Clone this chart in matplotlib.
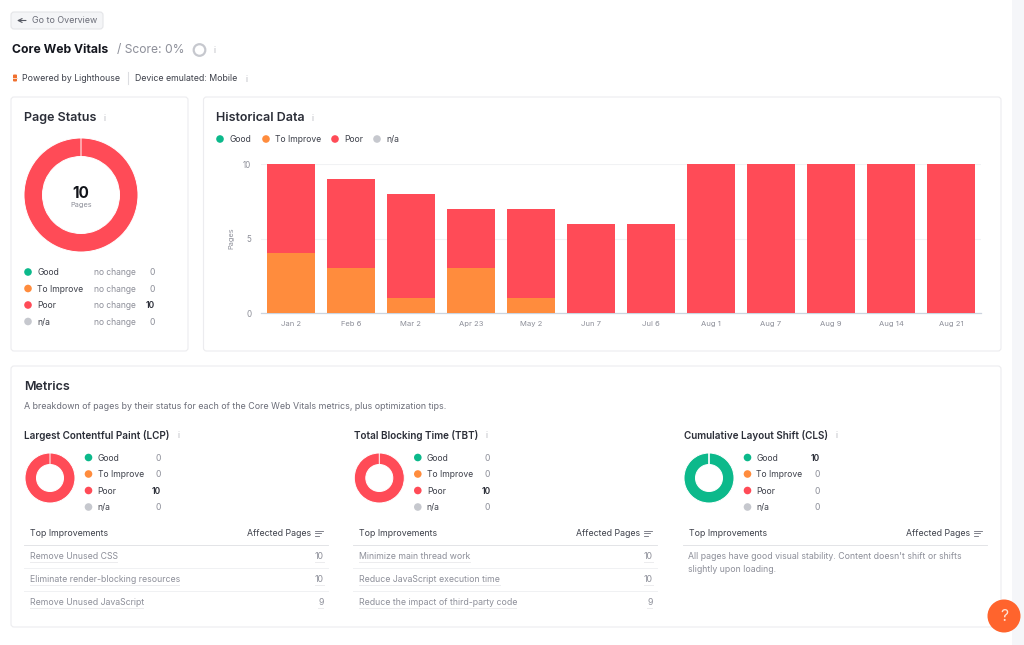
import numpy as np
import matplotlib
matplotlib.use("Agg")
import matplotlib.pyplot as plt
from matplotlib.patches import Circle, FancyBboxPatch, Rectangle

plt.rcParams["font.family"] = ["Inter", "DejaVu Sans"]

W, H = 1024, 645

STATUSES = ["Good", "To Improve", "Poor", "n/a"]
COLORS = ["#0cb98b", "#ff8c3d", "#ff4b57", "#c6c8ce"]

page_status = [0, 0, 10, 0]
page_change = ["no change", "no change", "no change", "no change"]

dates = ["Jan 2", "Feb 6", "Mar 2", "Apr 23", "May 2", "Jun 7", "Jul 6",
         "Aug 1", "Aug 7", "Aug 9", "Aug 14", "Aug 21"]
hist_good = [0, 0, 0, 0, 0, 0, 0, 0, 0, 0, 0, 0]
hist_improve = [4, 3, 1, 3, 1, 0, 0, 0, 0, 0, 0, 0]
hist_poor = [6, 6, 7, 4, 6, 6, 6, 10, 10, 10, 10, 10]
hist_na = [0, 0, 0, 0, 0, 0, 0, 0, 0, 0, 0, 0]

metric_names = ["Largest Contentful Paint (LCP)", "Total Blocking Time (TBT)",
                "Cumulative Layout Shift (CLS)"]
lcp_status = [0, 0, 10, 0]
tbt_status = [0, 0, 10, 0]
cls_status = [10, 0, 0, 0]

lcp_tips = ["Remove Unused CSS", "Eliminate render-blocking resources", "Remove Unused JavaScript"]
lcp_pages = [10, 10, 9]
tbt_tips = ["Minimize main thread work", "Reduce JavaScript execution time",
            "Reduce the impact of third-party code"]
tbt_pages = [10, 10, 9]

DARK = "#2b2e38"
MID = "#6c6e79"
LIGHT = "#8d8f99"
BORDER = "#ececef"

fig = plt.figure(figsize=(W / 100, H / 100), dpi=100, facecolor="white")
bg = fig.add_axes([0, 0, 1, 1], zorder=0)
bg.set_xlim(0, W)
bg.set_ylim(H, 0)
bg.axis("off")


def txt(x, y, s, size=6.3, color=DARK, weight="normal", ha="left", **kw):
    # centred text sits a bit high, nudge it down
    return bg.text(x, y + 0.8, s, fontsize=size, color=color, fontweight=weight,
                   ha=ha, va="center", **kw)


def card(x0, y0, x1, y1, face="white", edge=BORDER, pad=3):
    bg.add_patch(FancyBboxPatch((x0 + pad, y0 + pad), x1 - x0 - 2 * pad, y1 - y0 - 2 * pad,
                                boxstyle=f"round,pad={pad},rounding_size={pad}",
                                fc=face, ec=edge, lw=0.8))


def dot(x, y, color, r=3.8):
    bg.add_patch(Circle((x, y), r, fc=color, ec="none"))


def info(x, y):
    txt(x, y, "i", size=6, color="#b5b7bd", ha="center")


def donut(cx, cy, r_out, r_in, values):
    # square axes placed in pixels, pie radius fills it
    ax = fig.add_axes([(cx - r_out) / W, 1 - (cy + r_out) / H, 2 * r_out / W, 2 * r_out / H], zorder=2)
    ax.pie(values, colors=COLORS, radius=1, startangle=90, counterclock=False,
           wedgeprops=dict(width=1 - r_in / r_out, edgecolor="white", linewidth=0.7))
    ax.set_xlim(-1, 1)
    ax.set_ylim(-1, 1)
    return ax


# page strip on the right
bg.add_patch(Rectangle((1012, 0), 12, H, fc="#f5f6f9", ec="none"))

# header
card(11, 12, 103, 29, face="#f4f5f7", edge="#e4e5e8")
bg.annotate("", xy=(17, 20.5), xytext=(26, 20.5),
            arrowprops=dict(arrowstyle="->", color="#555862", lw=0.8, mutation_scale=7,
                            shrinkA=0, shrinkB=0))
txt(32, 20, "Go to Overview", size=6.4, color=MID)
txt(11.5, 49.5, "Core Web Vitals", size=8.8, color="#15171f", weight="bold")
txt(117, 49.5, "/ Score: 0%", size=8.7, color=LIGHT)
bg.add_patch(Circle((199.5, 50), 5.8, fc="none", ec="#c6c8ce", lw=1.6))
info(215, 50)
bg.add_patch(FancyBboxPatch((13.5, 75), 3, 6, boxstyle="round,pad=0.5,rounding_size=1", fc="#f0702f", ec="none"))
bg.plot([13, 17], [78, 78], color="#fbd9c4", lw=0.7)
txt(21.5, 78, "Powered by Lighthouse", size=6.3, color="#3d404a")
bg.plot([127.5, 127.5], [72, 84], color="#dcdde1", lw=0.8)
txt(135, 78, "Device emulated: Mobile", size=6.3, color="#3d404a")
info(246, 78.5)

# page status card
card(11, 97, 188, 351)
txt(24.5, 117.5, "Page Status", size=9, weight="semibold")
info(105, 118)
donut(81, 195, 57, 38.5, page_status)
txt(81, 192.5, "10", size=11, color="#111319", weight="bold", ha="center")
txt(81, 204, "Pages", size=5.3, color=LIGHT, ha="center")
for i, y in enumerate([272, 288.5, 305, 321.5]):
    dot(28, y, COLORS[i])
    txt(37, y, STATUSES[i], size=6.2, color="#3d404a")
    txt(93.5, y, page_change[i], size=6.1, color=LIGHT)
    v = page_status[i]
    txt(154.5, y, str(v), size=6.2, color=DARK if v else LIGHT, ha="right", weight="semibold" if v else "normal")

# historical card
card(203.5, 97, 1001, 351)
txt(216.5, 117.5, "Historical Data", size=9, weight="semibold")
info(312, 118)
for i, (xd, xt) in enumerate([(220, 229), (266, 275), (335, 344), (377, 386)]):
    dot(xd, 139, COLORS[i])
    txt(xt, 139, STATUSES[i], size=6.2, color="#3d404a")

ax = fig.add_axes([261 / W, 1 - 313 / H, 720 / W, 149 / H], zorder=2)
ax.patch.set_alpha(0)
x = np.arange(len(dates))
bottom = np.zeros(len(dates))
for vals, color in zip([hist_good, hist_improve, hist_poor, hist_na], COLORS):
    ax.bar(x, vals, width=0.8, bottom=bottom, color=color, zorder=3)
    bottom += np.array(vals)
ax.set_xlim(-0.5, len(dates) - 0.5)
ax.set_ylim(0, 10)
ax.set_yticks([0, 5, 10])
ax.set_xticks(x)
ax.set_xticklabels(dates)
ax.tick_params(axis="x", length=0, labelsize=5.5, labelcolor=LIGHT, pad=5.5)
ax.tick_params(axis="y", length=0, labelsize=5.8, labelcolor=LIGHT, pad=7)
ax.grid(axis="y", color="#f1f2f4", lw=0.8, zorder=0)
for s in ["top", "right", "left"]:
    ax.spines[s].set_visible(False)
ax.spines["bottom"].set_color("#ccd3de")
ax.spines["bottom"].set_linewidth(0.9)
ax.set_ylabel("Pages", fontsize=5.3, color=LIGHT, labelpad=6)

# metrics card
card(11, 366, 1001, 627)
txt(24.5, 386.5, "Metrics", size=9, weight="semibold")
txt(24.5, 405.5, "A breakdown of pages by their status for each of the Core Web Vitals metrics, plus optimization tips.",
    size=6.4, color=MID)

offsets = [0, 329.3, 659]
statuses = [lcp_status, tbt_status, cls_status]
tips = [lcp_tips, tbt_tips, None]
pages = [lcp_pages, tbt_pages, None]
info_x = [179, 486, 836]

for m, off in enumerate(offsets):
    txt(24.5 + off, 434.5, metric_names[m], size=7.15, weight="semibold")
    info(info_x[m], 435)
    donut(50 + off, 478, 25, 13.5, statuses[m])
    for i, y in enumerate([457.5, 474, 490.5, 507]):
        dot(88.5 + off, y, COLORS[i])
        txt(97.5 + off, y, STATUSES[i], size=6.2, color="#3d404a")
        v = statuses[m][i]
        txt(161 + off, y, str(v), size=6.2, color=DARK if v else LIGHT, ha="right",
            weight="semibold" if v else "normal")
    txt(29.7 + off, 533, "Top Improvements", size=6.3, color="#3d404a")
    txt(311 + off, 533, "Affected Pages", size=6.3, color="#3d404a", ha="right")
    for k, (x0, x1) in enumerate([(315, 322.5), (315, 321), (315, 319)]):
        bg.plot([x0 + off, x1 + off], [530.5 + k * 2.6] * 2, color="#6c6e79", lw=0.6)
    bg.plot([24 + off, 328 + off], [544.5, 544.5], color="#e3e4e7", lw=0.7)
    if tips[m] is None:
        txt(29.5 + off, 555.5, "All pages have good visual stability. Content doesn't shift or shifts", size=6.3, color=LIGHT)
        txt(29.5 + off, 568.5, "slightly upon loading.", size=6.3, color=LIGHT)
        continue
    for row, y in enumerate([556, 579, 602]):
        t = txt(29.7 + off, y - 0.5, tips[m][row], size=6.3, color=LIGHT)
        n = txt(323.5 + off, y - 0.5, str(pages[m][row]), size=6.3, color=LIGHT, ha="right")
        fig.canvas.draw()
        for item in (t, n):
            bb = item.get_window_extent()
            bg.plot([bb.x0, bb.x1], [y + 6, y + 6], color="#d2d3d8", lw=0.6, ls=(0, (1.2, 1.2)))
        if row < 2:
            bg.plot([24 + off, 328 + off], [y + 12, y + 12], color="#f0f1f3", lw=0.7)

# help bubble
hb = fig.add_axes([0, 0, 1, 1], zorder=3)
hb.set_xlim(0, W)
hb.set_ylim(H, 0)
hb.axis("off")
hb.add_patch(Circle((1004, 616), 16.5, fc="#ff642d", ec="none"))
hb.text(1004, 616.5, "?", fontsize=11.5, color="#ffe3d6", ha="center", va="center")

fig.savefig("out.png", dpi=100, facecolor="white")
